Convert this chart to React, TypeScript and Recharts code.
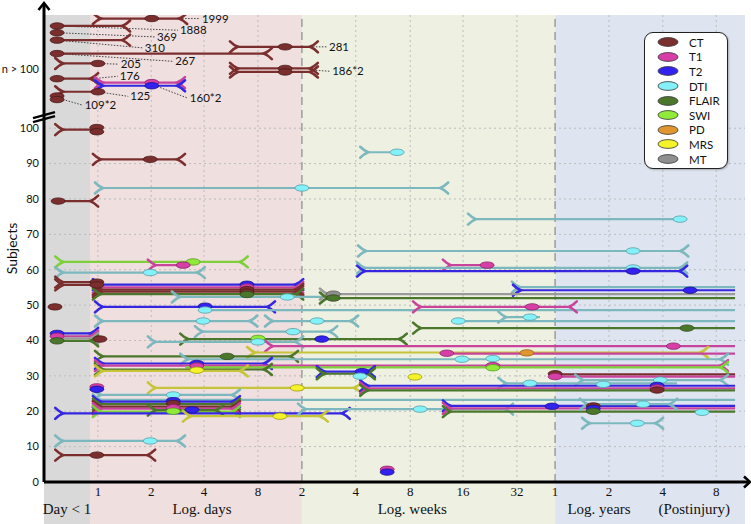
import React from 'react';
import {
  ComposedChart,
  XAxis,
  YAxis,
  Scatter,
  ReferenceArea,
  ReferenceLine,
  ReferenceDot,
  Legend,
} from 'recharts';

// ---------- axes / layout values (position units on a log-like time axis) ----------
const X_MIN = -0.07;
const X_MAX = 13.33;
const Y_MIN = 0;
const Y_MAX = 132;

const TICK_POS = [0.96, 1.98, 2.99, 4.02, 4.86, 5.89, 6.93, 7.94, 8.97, 9.7, 10.73, 11.76, 12.78];
const TICK_LABELS = ['1', '2', '4', '8', '2', '4', '8', '16', '32', '1', '2', '4', '8'];
const REGION_POS = [0.37, 2.95, 6.97, 10.54, 12.36];
const REGION_LABEL_ROW = -7.6;
const REGION_LABELS = ['Day < 1', 'Log. days', 'Log. weeks', 'Log. years', '(Postinjury)'];
const REGION_BOUNDS = [
  [-0.07, 0.81],
  [0.81, 4.86],
  [4.86, 9.7],
  [9.7, 13.33],
];
const REGION_DIVIDERS = [4.86, 9.7];
const Y_TICKS = [0, 10, 20, 30, 40, 50, 60, 70, 80, 90, 100, 116.7];
const Y_GRID = [10, 20, 30, 40, 50, 60, 70, 80, 90, 100];

const MODALITIES = ['CT', 'T1', 'T2', 'DTI', 'FLAIR', 'SWI', 'PD', 'MRS', 'MT'];

// ---------- studies with more than 100 subjects: [modality, subjects-row, start, end, caps] ----------
const TOP_SEGMENTS = [
  ['CT', 131.0, 0.96, 2.57, 'LR'],
  ['CT', 128.9, 0.18, 1.48, 'R'],
  ['CT', 124.9, 0.18, 1.48, 'R'],
  ['CT', 123.0, 3.58, 5.07, 'LR'],
  ['CT', 121.1, 0.18, 4.19, 'R'],
  ['CT', 118.3, 0.24, 0.96, 'L'],
  ['CT', 116.9, 3.58, 5.07, 'LR'],
  ['CT', 115.9, 3.58, 5.07, 'LR'],
  ['CT', 114.0, 0.18, 0.87, 'R'],
  ['T1', 112.9, 1.0, 2.53, 'LR'],
  ['T2', 112.0, 1.0, 2.53, 'LR'],
  ['CT', 110.3, 0.24, 0.96, 'L'],
];

const TOP_SCANS = [
  ['CT', 1.99, 131.0], ['CT', 0.18, 128.9], ['CT', 0.18, 127.0], ['CT', 0.18, 124.9],
  ['CT', 4.54, 123.0], ['CT', 0.18, 121.1], ['CT', 0.96, 118.3], ['CT', 4.54, 116.9],
  ['CT', 4.54, 115.9], ['CT', 0.18, 114.0], ['T1', 1.99, 112.9], ['T2', 1.99, 112.0],
  ['CT', 0.96, 110.3], ['CT', 0.18, 109.1], ['CT', 0.18, 108.1],
];

// [label, fromX, fromY, toX, toY]
const ANNOTATIONS = [
  ['1999', 2.57, 131.0, 2.91, 131.0],
  ['1888', 0.18, 128.9, 2.49, 127.7],
  ['369', 0.18, 127.0, 2.05, 125.8],
  ['310', 0.18, 124.9, 1.82, 122.7],
  ['267', 0.18, 121.1, 2.4, 118.9],
  ['281', 5.07, 123.0, 5.34, 123.0],
  ['205', 0.96, 118.3, 1.36, 118.1],
  ['186*2', 5.07, 116.4, 5.4, 116.1],
  ['176', 0.87, 114.0, 1.34, 114.7],
  ['160*2', 1.99, 112.4, 2.68, 108.5],
  ['125', 0.96, 110.3, 1.54, 109.0],
  ['109*2', 0.18, 108.6, 0.67, 106.5],
];

// ---------- studies with up to 100 subjects ----------
const SEGMENTS = [
  ['CT', 99.6, 0.24, 0.94, 'L'],
  ['CT', 91.2, 0.96, 2.53, 'LR'],
  ['DTI', 93.2, 6.07, 6.68, 'L'],
  ['DTI', 83.1, 1.0, 7.56, 'LR'],
  ['CT', 79.4, 0.2, 0.87, 'R'],
  ['DTI', 74.3, 8.13, 12.09, 'L'],
  ['DTI', 65.3, 6.03, 12.15, 'LR'],
  ['SWI', 62.2, 0.24, 3.73, 'LR'],
  ['T1', 61.3, 2.01, 2.59, 'L'],
  ['T1', 61.3, 7.65, 8.4, 'L'],
  ['DTI', 60.5, 6.01, 12.13, 'LR'],
  ['T2', 59.6, 6.01, 12.13, 'LR'],
  ['DTI', 59.2, 0.24, 2.91, 'LR'],
  ['CT', 56.5, 0.24, 0.94, 'L'],
  ['CT', 55.7, 0.24, 0.94, 'L'],
  ['T2', 55.8, 0.96, 4.79, 'LR'],
  ['T1', 55.0, 0.96, 4.79, 'LR'],
  ['CT', 54.4, 0.96, 4.79, 'LR'],
  ['CT', 53.8, 0.96, 4.79, 'LR'],
  ['FLAIR', 53.1, 0.96, 4.79, 'LR'],
  ['DTI', 52.3, 2.47, 5.3, 'L'],
  ['DTI', 55.1, 8.97, 13.14, 'L'],
  ['T2', 54.2, 8.99, 13.14, 'L'],
  ['MT', 53.1, 5.3, 13.14, 'L'],
  ['FLAIR', 52.0, 5.3, 13.14, 'L'],
  ['T2', 49.5, 1.0, 4.25, 'LR'],
  ['DTI', 48.6, 3.01, 13.14, ''],
  ['T1', 49.5, 7.08, 10.02, 'LR'],
  ['DTI', 45.5, 1.0, 3.91, 'LR'],
  ['DTI', 45.5, 4.25, 5.84, 'LR'],
  ['DTI', 45.5, 7.85, 13.14, ''],
  ['DTI', 46.6, 8.71, 9.41, 'L'],
  ['FLAIR', 43.5, 7.08, 13.14, 'L'],
  ['DTI', 42.5, 2.91, 5.44, 'LR'],
  ['T2', 42.0, 0.16, 0.87, 'R'],
  ['T1', 41.2, 0.16, 0.87, 'R'],
  ['MT', 40.6, 0.16, 0.87, 'R'],
  ['FLAIR', 39.9, 0.16, 0.87, 'R'],
  ['FLAIR', 40.4, 2.63, 6.77, 'LR'],
  ['DTI', 39.6, 2.01, 4.79, 'LR'],
  ['T1', 38.4, 4.25, 13.14, 'L'],
  ['MRS', 36.6, 3.91, 12.53, 'LR'],
  ['T1', 36.3, 7.63, 13.14, ''],
  ['FLAIR', 35.5, 1.0, 4.69, 'LR'],
  ['DTI', 34.7, 2.63, 12.91, 'LR'],
  ['T2', 33.5, 1.0, 4.19, 'LR'],
  ['T1', 32.9, 1.0, 12.91, 'LR'],
  ['SWI', 32.4, 2.63, 12.91, 'R'],
  ['FLAIR', 31.8, 1.0, 4.19, 'LR'],
  ['MRS', 31.4, 1.0, 3.73, 'LR'],
  ['T2', 31.2, 5.24, 6.16, 'LR'],
  ['FLAIR', 30.6, 5.24, 6.16, 'LR'],
  ['CT', 30.4, 9.7, 13.14, ''],
  ['T1', 29.8, 9.7, 13.14, ''],
  ['DTI', 28.8, 10.18, 12.91, 'LR'],
  ['MRS', 26.6, 2.01, 5.91, 'LR'],
  ['DTI', 27.9, 8.71, 12.03, 'L'],
  ['T2', 27.2, 6.07, 13.14, 'L'],
  ['T1', 26.5, 6.07, 13.14, 'L'],
  ['FLAIR', 25.9, 6.07, 13.14, 'L'],
  ['DTI', 24.6, 0.96, 3.58, 'LR'],
  ['DTI', 23.2, 0.96, 13.14, 'L'],
  ['T2', 22.7, 0.96, 3.58, 'LR'],
  ['FLAIR', 22.0, 0.96, 3.58, 'LR'],
  ['CT', 21.3, 0.96, 3.58, 'LR'],
  ['T1', 20.7, 0.96, 3.58, 'LR'],
  ['SWI', 19.9, 0.96, 3.58, 'LR'],
  ['FLAIR', 20.3, 2.01, 3.27, 'LR'],
  ['T2', 19.4, 0.24, 5.68, 'LR'],
  ['MRS', 18.6, 2.68, 5.26, 'LR'],
  ['DTI', 20.6, 4.88, 8.8, 'LR'],
  ['T2', 21.5, 7.65, 13.14, 'L'],
  ['T1', 20.8, 7.65, 13.14, 'L'],
  ['FLAIR', 19.9, 7.65, 13.14, 'L'],
  ['DTI', 22.0, 10.27, 11.94, 'LR'],
  ['DTI', 16.6, 10.31, 11.67, 'LR'],
  ['DTI', 11.6, 0.24, 2.53, 'LR'],
  ['CT', 7.6, 0.24, 1.96, 'LR'],
];

// [modality, time, subjects-row]
const SCANS = [
  ['CT', 0.94, 100.2], ['CT', 0.94, 99.0], ['CT', 1.96, 91.2], ['DTI', 6.68, 93.2],
  ['DTI', 4.86, 83.1], ['CT', 0.2, 79.4], ['DTI', 12.09, 74.3], ['DTI', 11.19, 65.3],
  ['SWI', 2.78, 62.2], ['T1', 2.59, 61.3], ['T1', 8.4, 61.3], ['DTI', 11.19, 60.5],
  ['T2', 11.19, 59.6], ['DTI', 1.96, 59.2], ['CT', 0.94, 56.5], ['CT', 0.94, 55.7],
  ['T2', 3.81, 55.9], ['T1', 3.81, 55.1], ['CT', 3.81, 54.4], ['CT', 3.81, 53.7],
  ['FLAIR', 3.81, 53.0], ['DTI', 4.58, 52.3], ['T2', 12.28, 54.2], ['MT', 5.46, 53.1],
  ['FLAIR', 5.46, 52.0], ['CT', 0.14, 49.5], ['T2', 3.01, 49.7], ['DTI', 3.01, 48.6],
  ['T1', 9.26, 49.5], ['DTI', 2.97, 45.5], ['DTI', 5.15, 45.5], ['DTI', 7.85, 45.5],
  ['DTI', 9.22, 46.6], ['FLAIR', 12.22, 43.5], ['DTI', 4.69, 42.5], ['T2', 0.18, 42.0],
  ['T1', 0.18, 41.2], ['FLAIR', 0.18, 39.9], ['CT', 1.0, 40.4], ['SWI', 4.02, 40.6],
  ['T2', 5.24, 40.4], ['DTI', 4.02, 39.6], ['T1', 11.96, 38.4], ['T1', 7.63, 36.4],
  ['PD', 9.16, 36.5], ['FLAIR', 3.43, 35.5], ['DTI', 7.92, 34.7], ['DTI', 8.51, 34.9],
  ['T2', 2.85, 33.5], ['T1', 2.85, 32.8], ['MRS', 2.85, 31.6], ['T1', 8.51, 32.9],
  ['SWI', 8.51, 32.3], ['T2', 6.01, 31.2], ['DTI', 5.97, 29.9], ['MRS', 7.02, 29.7],
  ['CT', 9.7, 30.6], ['T1', 9.7, 29.8], ['DTI', 11.71, 28.8], ['T1', 0.94, 26.9],
  ['T2', 0.94, 26.2], ['MRS', 4.77, 26.6], ['DTI', 9.22, 27.9], ['DTI', 10.62, 27.6],
  ['T2', 11.65, 27.3], ['T1', 11.65, 26.6], ['CT', 11.65, 26.0], ['DTI', 2.4, 24.6],
  ['T2', 2.4, 23.0], ['CT', 2.4, 22.2], ['T1', 2.4, 21.0], ['SWI', 2.4, 20.0],
  ['T2', 2.76, 20.4], ['MRS', 4.44, 18.6], ['DTI', 7.12, 20.6], ['T2', 9.64, 21.4],
  ['CT', 10.43, 21.5], ['T2', 10.43, 20.8], ['FLAIR', 10.43, 20.0], ['DTI', 11.38, 22.0],
  ['DTI', 12.51, 19.7], ['DTI', 11.27, 16.6], ['DTI', 1.96, 11.6], ['CT', 0.94, 7.6],
  ['T1', 6.49, 3.6], ['T2', 6.49, 2.8],
];

// ---------- styles ----------
const FILL = {
  CT: '#7b2e2e', T1: '#d63fa6', T2: '#3322ee', DTI: '#84f0f8', FLAIR: '#4b772d',
  SWI: '#90ea3a', PD: '#e0962f', MRS: '#f4f22a', MT: '#8f8f8f',
};
const LINE = {
  CT: '#7b2e2e', T1: '#c8449c', T2: '#3526e0', DTI: '#7db8be', FLAIR: '#4b772d',
  SWI: '#7fcf3a', PD: '#d08a30', MRS: '#c6c43a', MT: '#9a9a9a',
};
const EDGE = {
  CT: '#4a1a1a', T1: '#8a2468', T2: '#1a1090', DTI: '#5a9ea6', FLAIR: '#2e4a1c',
  SWI: '#5a9a20', PD: '#9a6020', MRS: '#9a9a10', MT: '#555555',
};
const REGION_FILLS = ['#d9d9d9', '#efdfdf', '#eef1e1', '#dfe5f0'];
const SANS = 'Lato, "Liberation Sans", sans-serif';
const SERIF = '"Liberation Serif", "DejaVu Serif", serif';

const toSegments = (list) =>
  list.map(([m, y, x1, x2, caps]) => ({
    m,
    pts: [
      { x: x1, y, cap: caps.includes('L') ? 'L' : '' },
      { x: x2, y, cap: caps.includes('R') ? 'R' : '' },
    ],
  }));
const toScans = (list) => list.map(([m, x, y]) => ({ m, x, y }));

const ALL_SEGMENTS = [...toSegments(TOP_SEGMENTS), ...toSegments(SEGMENTS)];
const ALL_SCANS = [...toScans(TOP_SCANS), ...toScans(SCANS)];

const capShape = (color) => (props) => {
  const { cx, cy, payload } = props;
  if (cx == null || cy == null || !payload) return <g />;
  if (payload.cap === 'L') {
    return (
      <path
        d={`M${cx - 5},${cy - 5.5} Q${cx - 1},${cy - 1.5} ${cx + 3},${cy} Q${cx - 1},${cy + 1.5} ${cx - 5},${cy + 5.5}`}
        fill="none"
        stroke={color}
        strokeWidth={2.6}
        strokeLinecap="round"
      />
    );
  }
  if (payload.cap === 'R') {
    return (
      <path
        d={`M${cx + 5},${cy - 5.5} Q${cx + 1},${cy - 1.5} ${cx - 3},${cy} Q${cx + 1},${cy + 1.5} ${cx + 5},${cy + 5.5}`}
        fill="none"
        stroke={color}
        strokeWidth={2.6}
        strokeLinecap="round"
      />
    );
  }
  return <g />;
};

const scanShape = (props) => {
  const { cx, cy, payload } = props;
  if (cx == null || cy == null || !payload) return <g />;
  return (
    <ellipse cx={cx} cy={cy} rx={7} ry={3.2} fill={FILL[payload.m]} stroke={EDGE[payload.m]} strokeWidth={0.8} />
  );
};

const yArrow = (props) => {
  const { cx, cy } = props;
  return (
    <g>
      <line x1={cx} y1={cy} x2={cx} y2={cy - 11} stroke="#000" strokeWidth={3} />
      <path d={`M${cx - 5.5},${cy - 5} L${cx},${cy - 12} L${cx + 5.5},${cy - 5}`} fill="none" stroke="#000" strokeWidth={2.6} />
    </g>
  );
};

const xArrow = (props) => {
  const { cx, cy } = props;
  return (
    <g>
      <line x1={cx} y1={cy} x2={cx + 4} y2={cy} stroke="#000" strokeWidth={3} />
      <path d={`M${cx - 1},${cy - 5.5} L${cx + 5},${cy} L${cx - 1},${cy + 5.5}`} fill="none" stroke="#000" strokeWidth={2.6} />
    </g>
  );
};

const breakMark = (props) => {
  const { cx, cy } = props;
  return (
    <g>
      <line x1={cx - 11} y1={cy + 2} x2={cx + 11} y2={cy - 4} stroke="#000" strokeWidth={2.2} />
      <line x1={cx - 11} y1={cy + 6} x2={cx + 11} y2={cy} stroke="#000" strokeWidth={2.2} />
    </g>
  );
};

const labelShape = (text) => (props) => {
  const { cx, cy } = props;
  return (
    <text x={cx + 2} y={cy} dy="0.35em" fontSize={11.5} fontFamily={SANS} fill="#111">
      {text}
    </text>
  );
};

const regionLabelShape = (text) => (props) => {
  const { cx, cy } = props;
  return (
    <text x={cx} y={cy} dy="0.35em" textAnchor="middle" fontSize={15} fontFamily={SERIF} fill="#111">
      {text}
    </text>
  );
};

const yTick = (props) => {
  const { x, y, payload } = props;
  const v = payload.value;
  return (
    <text x={x + 1} y={y} dy="0.35em" textAnchor="end" fontSize={11} fontFamily={SANS} fill="#111">
      {v > 100 ? 'n > 100' : String(v)}
    </text>
  );
};

const renderLegend = () => (
  <div
    style={{
      width: 84,
      height: 137,
      boxSizing: 'border-box',
      border: '1.5px solid #222',
      borderRadius: 9,
      background: '#fff',
      boxShadow: '1px 1px 2px rgba(0,0,0,0.25)',
      paddingTop: 2,
      fontFamily: SANS,
      fontSize: 11.5,
      color: '#111',
    }}
  >
    {MODALITIES.map((m) => (
      <div key={m} style={{ display: 'flex', alignItems: 'center', height: 14.6 }}>
        <svg width={44} height={12} style={{ display: 'block' }}>
          <ellipse cx={23} cy={6} rx={10} ry={4.4} fill={FILL[m]} stroke="#333" strokeWidth={0.8} />
        </svg>
        <span>{m}</span>
      </div>
    ))}
  </div>
);

export default function App() {
  return (
    <div style={{ width: 751, height: 524, background: '#fff' }}>
      <style>{'body{margin:0;background:#fff;}'}</style>
      <ComposedChart width={751} height={524} margin={{ top: 15, right: 6, bottom: 0, left: 0 }}>
        {REGION_BOUNDS.map(([a, b], i) => (
          <ReferenceArea
            key={`r${i}`}
            x1={a}
            x2={b}
            y1={-12}
            y2={Y_MAX}
            fill={REGION_FILLS[i]}
            fillOpacity={1}
            stroke="none"
            ifOverflow="visible"
          />
        ))}
        {TICK_POS.filter((t) => !REGION_DIVIDERS.includes(t)).map((t) => (
          <ReferenceLine key={`gx${t}`} x={t} stroke="#bcbcbc" strokeDasharray="2 3" strokeWidth={1} />
        ))}
        {Y_GRID.map((v) => (
          <ReferenceLine key={`gy${v}`} y={v} stroke="#bcbcbc" strokeDasharray="2 3" strokeWidth={1} />
        ))}
        {REGION_DIVIDERS.map((t) => (
          <ReferenceLine key={`d${t}`} x={t} stroke="#9c9c9c" strokeDasharray="8 5" strokeWidth={1.5} />
        ))}

        <XAxis
          dataKey="x"
          type="number"
          domain={[X_MIN, X_MAX]}
          allowDataOverflow
          ticks={TICK_POS}
          interval={0}
          tickFormatter={(v) => TICK_LABELS[TICK_POS.indexOf(v)] ?? ''}
          height={42}
          tickSize={0}
          tickMargin={5}
          tickLine={false}
          axisLine={{ stroke: '#000', strokeWidth: 3 }}
          tick={{ fontSize: 13, fontFamily: SERIF, fill: '#111' }}
        />
        <YAxis
          dataKey="y"
          type="number"
          domain={[Y_MIN, Y_MAX]}
          allowDataOverflow
          ticks={Y_TICKS}
          interval={0}
          width={44}
          tickSize={4}
          tickMargin={2}
          tickLine={false}
          axisLine={{ stroke: '#000', strokeWidth: 3 }}
          tick={yTick}
          label={{ value: 'Subjects', angle: -90, position: 'center', dx: -10, fontSize: 14, fontFamily: SANS, fill: '#111' }}
        />

        {ALL_SEGMENTS.map((s, i) => (
          <Scatter
            key={`s${i}`}
            data={s.pts}
            fill={LINE[s.m]}
            line={{ stroke: LINE[s.m], strokeWidth: 2.2 }}
            shape={capShape(LINE[s.m])}
            isAnimationActive={false}
            legendType="none"
          />
        ))}
        <Scatter data={ALL_SCANS} shape={scanShape} isAnimationActive={false} legendType="none" />

        {ANNOTATIONS.map(([t, x1, y1, x2, y2]) => (
          <ReferenceLine
            key={`al${t}`}
            segment={[
              { x: x1, y: y1 },
              { x: x2, y: y2 },
            ]}
            stroke="#444"
            strokeWidth={1}
            strokeDasharray="1.5 1.5"
            ifOverflow="visible"
          />
        ))}
        {ANNOTATIONS.map(([t, , , x2, y2]) => (
          <ReferenceDot key={`at${t}`} x={x2} y={y2} r={0} ifOverflow="visible" shape={labelShape(t)} />
        ))}
        {REGION_LABELS.map((t, i) => (
          <ReferenceDot
            key={`rl${t}`}
            x={REGION_POS[i]}
            y={REGION_LABEL_ROW}
            r={0}
            ifOverflow="visible"
            shape={regionLabelShape(t)}
          />
        ))}

        <ReferenceDot x={X_MIN} y={Y_MAX} r={0} ifOverflow="visible" shape={yArrow} />
        <ReferenceDot x={X_MAX} y={Y_MIN} r={0} ifOverflow="visible" shape={xArrow} />
        <ReferenceDot x={X_MIN} y={103.4} r={0} ifOverflow="visible" shape={breakMark} />

        <Legend
          layout="vertical"
          align="center"
          verticalAlign="middle"
          content={renderLegend}
          wrapperStyle={{ left: 644, top: 32, width: 84, height: 137 }}
        />
      </ComposedChart>
    </div>
  );
}
